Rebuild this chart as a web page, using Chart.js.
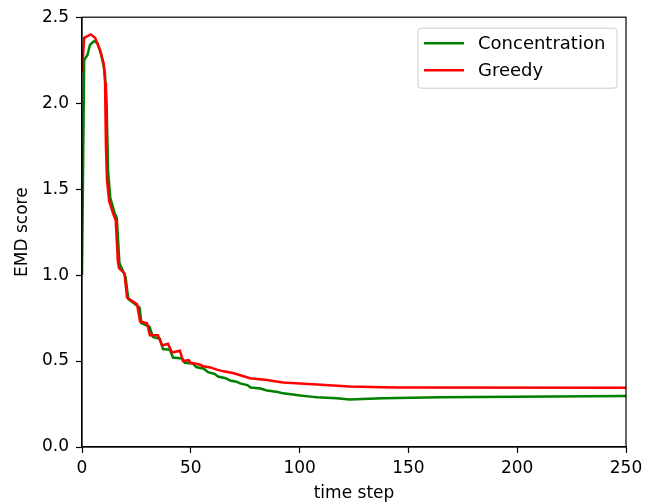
<!DOCTYPE html>
<html>
<head>
<meta charset="utf-8">
<script src="https://cdn.jsdelivr.net/npm/chart.js@4"></script>
<style>
  html, body { margin: 0; padding: 0; background: #fff; }
  #wrap { width: 659px; height: 504px; }
</style>
</head>
<body>
<div id="wrap"><canvas id="myChart" width="659" height="504"></canvas></div>
<script>
const seriesNames = ['Concentration', 'Greedy']

const greenX = [0, 1, 2.5, 3.7, 5.5, 7, 8.7, 10.5, 11.3, 12, 13, 15, 16, 17.2, 20, 21.3, 25.5, 26.5, 27.3, 31, 32.6, 35.8, 37.2, 40.4, 41.8, 46, 47.3, 51, 52.5, 56, 57.9, 61, 62.5, 66, 68, 71, 72.6, 76, 77.5, 82, 85, 90, 92.4, 97, 100.2, 105, 108, 117, 123, 138, 165, 250]
const greenY = [1.0, 2.25, 2.28, 2.34, 2.36, 2.35, 2.29, 2.18, 2.0, 1.6, 1.45, 1.36, 1.33, 1.07, 0.99, 0.86, 0.82, 0.81, 0.72, 0.70, 0.64, 0.63, 0.57, 0.566, 0.52, 0.515, 0.49, 0.485, 0.465, 0.455, 0.435, 0.425, 0.41, 0.40, 0.387, 0.38, 0.37, 0.36, 0.346, 0.34, 0.329, 0.32, 0.312, 0.305, 0.30, 0.293, 0.289, 0.283, 0.277, 0.283, 0.29, 0.296]

const redX = [0, 1, 4, 6, 8, 10, 10.6, 11, 11.5, 12.5, 14.5, 15.5, 16.5, 17, 19.5, 20.7, 25.3, 26.7, 29.9, 31.2, 34.9, 36.8, 39.5, 41.4, 45, 46.4, 49, 50, 54, 55.6, 59, 62, 65, 69.4, 77.2, 85, 92.4, 100.2, 108, 115.3, 123, 138, 146, 250]
const redY = [2.18, 2.38, 2.40, 2.38, 2.32, 2.23, 2.12, 1.75, 1.55, 1.43, 1.35, 1.32, 1.08, 1.04, 1.01, 0.87, 0.83, 0.73, 0.72, 0.65, 0.65, 0.59, 0.60, 0.55, 0.56, 0.50, 0.505, 0.49, 0.48, 0.47, 0.463, 0.45, 0.44, 0.43, 0.40, 0.39, 0.375, 0.37, 0.364, 0.358, 0.352, 0.347, 0.346, 0.345]

const xTicks = [0, 50, 100, 150, 200, 250]
const yTicks = [0.0, 0.5, 1.0, 1.5, 2.0, 2.5]

const font = 'DejaVu Sans'

function puntos(xs, ys) {
    return xs.map((x, i) => ({ x: x, y: ys[i] }))
}

// marco negro alrededor del area y leyenda dentro del grafico
const marcoPlugin = {
    id: 'marco',
    afterDraw(chart) {
        const ctx = chart.ctx
        const a = chart.chartArea
        ctx.save()
        ctx.strokeStyle = '#000'
        ctx.lineWidth = 1.2
        ctx.strokeRect(a.left, a.top, a.right - a.left, a.bottom - a.top)

        const w = 199, h = 60
        const bx = a.right - 9 - w, by = a.top + 11
        ctx.beginPath()
        ctx.roundRect(bx, by, w, h, 3)
        ctx.fillStyle = 'rgba(255,255,255,0.8)'
        ctx.fill()
        ctx.strokeStyle = '#cccccc'
        ctx.lineWidth = 1
        ctx.stroke()

        ctx.font = '18px "' + font + '"'
        ctx.textBaseline = 'middle'
        chart.data.datasets.forEach((ds, i) => {
            const y = by + 15 + i * 27
            ctx.beginPath()
            ctx.moveTo(bx + 6, y)
            ctx.lineTo(bx + 46, y)
            ctx.strokeStyle = ds.borderColor
            ctx.lineWidth = 2.5
            ctx.stroke()
            ctx.fillStyle = '#000'
            ctx.fillText(ds.label, bx + 60, y + 1)
        })
        ctx.restore()
    }
}

const ctx = document.getElementById('myChart')
new Chart(ctx, {
    type: 'line',
    data: {
        datasets: [
            {
                label: seriesNames[0],
                data: puntos(greenX, greenY),
                borderColor: '#008000',
                borderWidth: 2.5,
                pointRadius: 0,
                tension: 0,
                order: 1
            },
            {
                label: seriesNames[1],
                data: puntos(redX, redY),
                borderColor: '#ff0000',
                borderWidth: 2.5,
                pointRadius: 0,
                tension: 0,
                order: 0
            }
        ]
    },
    options: {
        responsive: false,
        animation: false,
        layout: { padding: { top: 14, right: 33, left: 0, bottom: 0 } },
        plugins: {
            legend: { display: false },
            tooltip: { enabled: false }
        },
        scales: {
            x: {
                type: 'linear',
                min: 0,
                max: 250,
                afterBuildTicks: (s) => { s.ticks = xTicks.map(v => ({ value: v })) },
                afterFit: (s) => { s.height = 57 },
                ticks: {
                    color: '#000',
                    padding: 5,
                    maxRotation: 0,
                    font: { family: font, size: 17 }
                },
                grid: { drawOnChartArea: false, tickLength: 6, tickColor: '#000', tickWidth: 1.2 },
                border: { color: '#000', width: 1.2 },
                title: {
                    display: true,
                    text: 'time step',
                    color: '#000',
                    padding: { top: 0, bottom: 0 },
                    font: { family: font, size: 17 }
                }
            },
            y: {
                min: 0,
                max: 2.5,
                afterBuildTicks: (s) => { s.ticks = yTicks.map(v => ({ value: v })) },
                afterFit: (s) => { s.width = 82 },
                ticks: {
                    color: '#000',
                    padding: 7,
                    callback: (v) => Number(v).toFixed(1),
                    font: { family: font, size: 17 }
                },
                grid: { drawOnChartArea: false, tickLength: 6, tickColor: '#000', tickWidth: 1.2 },
                border: { color: '#000', width: 1.2 },
                title: {
                    display: true,
                    text: 'EMD score',
                    color: '#000',
                    padding: { top: 12, bottom: 0 },
                    font: { family: font, size: 17 }
                }
            }
        }
    },
    plugins: [marcoPlugin]
})
</script>
</body>
</html>
